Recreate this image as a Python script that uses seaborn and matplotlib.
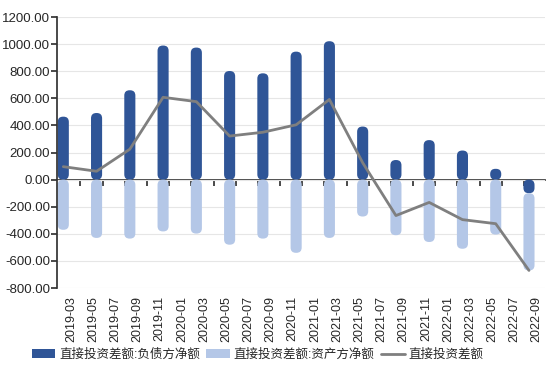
import numpy as np
import pandas as pd
import seaborn as sns
import matplotlib.pyplot as plt
from matplotlib.patches import FancyBboxPatch, Patch
from matplotlib.lines import Line2D

# --------- data --------- #
months = [0, 3, 6, 9, 12, 15, 18, 21, 24, 27, 30, 33, 36, 39, 42]   # months since 2019-03
liability = [465, 492, 660, 990, 975, 802, 785, 945, 1022, 392, 145, 292, 215, 80, -100]
asset = [-370, -430, -435, -382, -398, -480, -435, -540, -430, -272, -410, -460, -510, -405, -570]
net = [96, 62, 225, 608, 576, 322, 350, 405, 592, 125, -265, -168, -295, -325, -670]
tick_labels = ["2019-03", "2019-05", "2019-07", "2019-09", "2019-11",
               "2020-01", "2020-03", "2020-05", "2020-07", "2020-09", "2020-11",
               "2021-01", "2021-03", "2021-05", "2021-07", "2021-09", "2021-11",
               "2022-01", "2022-03", "2022-05", "2022-07", "2022-09"]
names = ["直接投资差额:负债方净额", "直接投资差额:资产方净额", "直接投资差额"]

dark = "#2F5597"
light = "#B4C7E7"
grey = "#7F7F7F"

df = pd.DataFrame({"month": months, "liability": liability, "asset": asset, "net": net})

# --------- style --------- #
sns.set_theme(style="white")
plt.rcParams['font.family'] = ['Liberation Sans', 'Noto Sans CJK SC']

fig = plt.figure(figsize=(5.5, 3.8), dpi=100)
ax = fig.add_axes([0.104, 0.242, 0.886, 0.713])
ax.set_xlim(-0.55, 43.4)
ax.set_ylim(-800, 1200)

# stacked bars: negative parts stack below negative liability
bottoms = np.where((df["liability"] < 0) & (df["asset"] < 0), df["liability"], 0)
bw = 1.0
bars1 = ax.bar(df["month"], df["liability"], width=bw, color=dark, zorder=2)
bars2 = ax.bar(df["month"], df["asset"], width=bw, bottom=bottoms, color=light, zorder=2)

# round the bar ends
fig.canvas.draw()
bbox = ax.get_window_extent()
px_x = bbox.width / (ax.get_xlim()[1] - ax.get_xlim()[0])
px_y = bbox.height / (ax.get_ylim()[1] - ax.get_ylim()[0])
aspect = px_x / px_y
for bars in (bars1, bars2):
    for r in list(bars):
        x, y = r.get_x(), r.get_y()
        w, h = r.get_width(), r.get_height()
        if h < 0:
            y, h = y + h, -h
        rad = min(w / 2, h / aspect / 2) * 0.95
        p = FancyBboxPatch((x, y), w, h, boxstyle=f"round,pad=0,rounding_size={rad}",
                           mutation_aspect=aspect, facecolor=r.get_facecolor(),
                           edgecolor="none", zorder=2)
        r.remove()
        ax.add_patch(p)

sns.lineplot(data=df, x="month", y="net", color=grey, linewidth=2, ax=ax, zorder=3)

# axes styling
ax.set_yticks(np.arange(-800, 1201, 200))
ax.set_yticklabels([f"{v:.2f}" for v in np.arange(-800, 1201, 200)], fontsize=9.5)
ax.yaxis.grid(True, color="#E6E6E6", linewidth=0.8)
ax.set_axisbelow(True)
for s in ["top", "right", "bottom"]:
    ax.spines[s].set_visible(False)
ax.spines["left"].set_color("#333333")
ax.tick_params(axis="y", left=True, length=4, color="#333333", pad=1)

ax.set_xticks([2 * i + 0.7 for i in range(len(tick_labels))])
ax.set_xticklabels(tick_labels, rotation=90, fontsize=9)
ax.tick_params(axis="x", bottom=False, length=0, pad=6)
ax.set_xlabel("")
ax.set_ylabel("")

# axis line at zero with tick marks
zero_loc = (0 - ax.get_ylim()[0]) / (ax.get_ylim()[1] - ax.get_ylim()[0])
sec = ax.secondary_xaxis(zero_loc)
sec.set_xticks([2 * i - 0.45 for i in range(1, 23)])
sec.set_xticklabels([])
sec.tick_params(axis="x", direction="out", length=4, color="#333333")
sec.spines["bottom"].set_color("#333333")

handles = [Patch(facecolor=dark, edgecolor="none"),
           Patch(facecolor=light, edgecolor="none"),
           Line2D([], [], color=grey, linewidth=2)]
fig.legend(handles, names, loc="center", bbox_to_anchor=(0.468, 0.066), ncol=3,
           frameon=False, fontsize=9, handlelength=1.9, handleheight=0.7,
           columnspacing=0.5, handletextpad=0.3)

plt.savefig("out.png", dpi=100)
